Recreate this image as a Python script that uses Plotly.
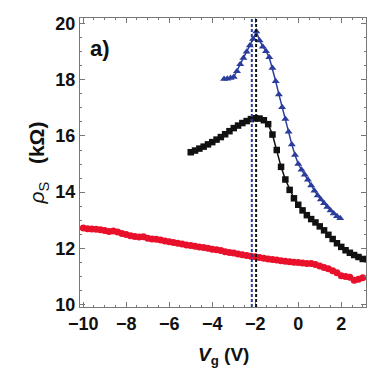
import plotly.graph_objects as go

# ---- data ----
red_x = [-10.0, -9.8, -9.6, -9.4, -9.2, -9.0, -8.8, -8.6, -8.4, -8.2, -8.0, -7.8, -7.6, -7.4, -7.2,
         -7.0, -6.8, -6.6, -6.4, -6.2, -6.0, -5.8, -5.6, -5.4, -5.2, -5.0, -4.8, -4.6, -4.4, -4.2,
         -4.0, -3.8, -3.6, -3.4, -3.2, -3.0, -2.8, -2.6, -2.4, -2.2, -2.0, -1.8, -1.6, -1.4, -1.2,
         -1.0, -0.8, -0.6, -0.4, -0.2, 0.0, 0.2, 0.4, 0.6, 0.8, 1.0, 1.2, 1.4, 1.6, 1.8,
         2.0, 2.2, 2.4, 2.6, 2.8, 3.0]
red_y = [12.72, 12.70, 12.69, 12.68, 12.66, 12.63, 12.60, 12.62, 12.58, 12.53, 12.49, 12.45, 12.42, 12.40, 12.41,
         12.36, 12.33, 12.32, 12.30, 12.26, 12.23, 12.21, 12.18, 12.15, 12.12, 12.10, 12.07, 12.05, 12.03, 12.00,
         11.97, 11.95, 11.92, 11.88, 11.85, 11.83, 11.80, 11.77, 11.74, 11.72, 11.70, 11.67, 11.65, 11.62, 11.60,
         11.58, 11.56, 11.54, 11.52, 11.50, 11.49, 11.48, 11.46, 11.46, 11.42, 11.37, 11.32, 11.27, 11.20, 11.13,
         11.02, 11.00, 10.97, 10.86, 10.90, 10.95]

black_x = [-5.0, -4.8, -4.6, -4.4, -4.2, -4.0, -3.8, -3.6, -3.4, -3.2, -3.0, -2.8, -2.6, -2.4, -2.2,
           -2.0, -1.8, -1.6, -1.4, -1.2, -1.0, -0.8, -0.6, -0.4, -0.2, 0.0, 0.2, 0.4, 0.6, 0.8,
           1.0, 1.2, 1.4, 1.6, 1.8, 2.0, 2.2, 2.4, 2.6, 2.8, 3.0]
black_y = [15.42, 15.48, 15.55, 15.62, 15.70, 15.78, 15.87, 15.96, 16.06, 16.17, 16.28, 16.37, 16.46, 16.53, 16.60,
           16.63, 16.62, 16.56, 16.42, 16.05, 15.50, 14.90, 14.45, 14.08, 13.78, 13.55, 13.35, 13.18, 13.04, 12.92,
           12.78, 12.64, 12.48, 12.33, 12.18, 12.05, 11.93, 11.84, 11.76, 11.69, 11.62]

blue_x = [-3.45, -3.3, -3.15, -3.0, -2.85, -2.7, -2.55, -2.4, -2.25, -2.1, -1.95, -1.8, -1.65, -1.5, -1.35,
          -1.2, -1.05, -0.9, -0.75, -0.6, -0.45, -0.3, -0.15, 0.0, 0.15, 0.3, 0.45, 0.6, 0.75, 0.9,
          1.05, 1.2, 1.35, 1.5, 1.65, 1.8, 1.95]
blue_y = [18.03, 18.04, 18.06, 18.10, 18.30, 18.55, 18.78, 19.00, 19.22, 19.45, 19.72, 19.40, 19.18, 19.02, 18.80,
          18.42, 17.95, 17.48, 17.02, 16.60, 16.15, 15.70, 15.32, 15.00, 14.80, 14.62, 14.44, 14.24, 14.05, 13.88,
          13.74, 13.60, 13.47, 13.35, 13.24, 13.14, 13.07]

peak_x = [-2.16, -1.96]
peak_colors = ["#2b3d9c", "#111111"]

x_ticks = [-10, -8, -6, -4, -2, 0, 2]
x_tick_labels = ["−10", "−8", "−6", "−4", "−2", "0", "2"]
y_ticks = [10, 12, 14, 16, 18, 20]
y_tick_labels = ["10", "12", "14", "16", "18", "20"]

fig = go.Figure()
fig.add_trace(go.Scatter(x=red_x, y=red_y, mode="lines+markers",
                         line=dict(color="#e8102a", width=1.5),
                         marker=dict(symbol="circle", size=7, color="#e8102a")))
fig.add_trace(go.Scatter(x=black_x, y=black_y, mode="lines+markers",
                         line=dict(color="#111111", width=1.5),
                         marker=dict(symbol="square", size=6.5, color="#111111")))
fig.add_trace(go.Scatter(x=blue_x, y=blue_y, mode="lines+markers",
                         line=dict(color="#2b3d9c", width=1.5),
                         marker=dict(symbol="triangle-up", size=7, color="#2b3d9c")))

for px, pc in zip(peak_x, peak_colors):
    fig.add_shape(type="line", xref="x", yref="paper", x0=px, x1=px, y0=0, y1=1,
                  line=dict(color=pc, width=2, dash="3px,2px"))

axis_common = dict(showline=True, linecolor="#777777", linewidth=1, mirror="ticks",
                   ticks="inside", ticklen=5, tickcolor="#777777", showgrid=False, zeroline=False,
                   automargin=False,
                   tickfont=dict(family="Liberation Sans, Arial", size=18, color="#111111",
                                 weight="bold"))

fig.update_xaxes(range=[-10.15, 3.15], tickvals=x_ticks, ticktext=x_tick_labels,
                 minor=dict(dtick=0.5, ticks="inside", ticklen=2, tickcolor="#777777"),
                 **axis_common)
fig.update_yaxes(range=[9.91, 20.2], tickvals=y_ticks, ticktext=y_tick_labels,
                 minor=dict(dtick=0.5, ticks="inside", ticklen=2, tickcolor="#777777"),
                 **axis_common)

fig.update_layout(
    width=370, height=382,
    margin=dict(l=72, r=12, t=10, b=83),
    plot_bgcolor="white", paper_bgcolor="white",
    showlegend=False,
    font=dict(family="Liberation Sans, Arial", color="#111111"),
    annotations=[
        dict(text="<b>a)</b>", xref="paper", yref="paper", x=0.028, y=0.893,
             xanchor="left", yanchor="middle", showarrow=False, font=dict(size=22)),
        dict(text="<b><i>V</i><sub>g</sub> (V)</b>", xref="paper", yref="paper", x=0.5, y=-0.17,
             xanchor="center", yanchor="middle", showarrow=False, font=dict(size=19)),
        dict(text="<i>ρ</i><sub>S</sub>   <b>(kΩ)</b>", xref="paper", yref="paper", x=-0.147, y=0.5,
             xanchor="center", yanchor="middle", showarrow=False, textangle=-90, font=dict(size=21)),
    ],
)

fig.write_html("out.html")
